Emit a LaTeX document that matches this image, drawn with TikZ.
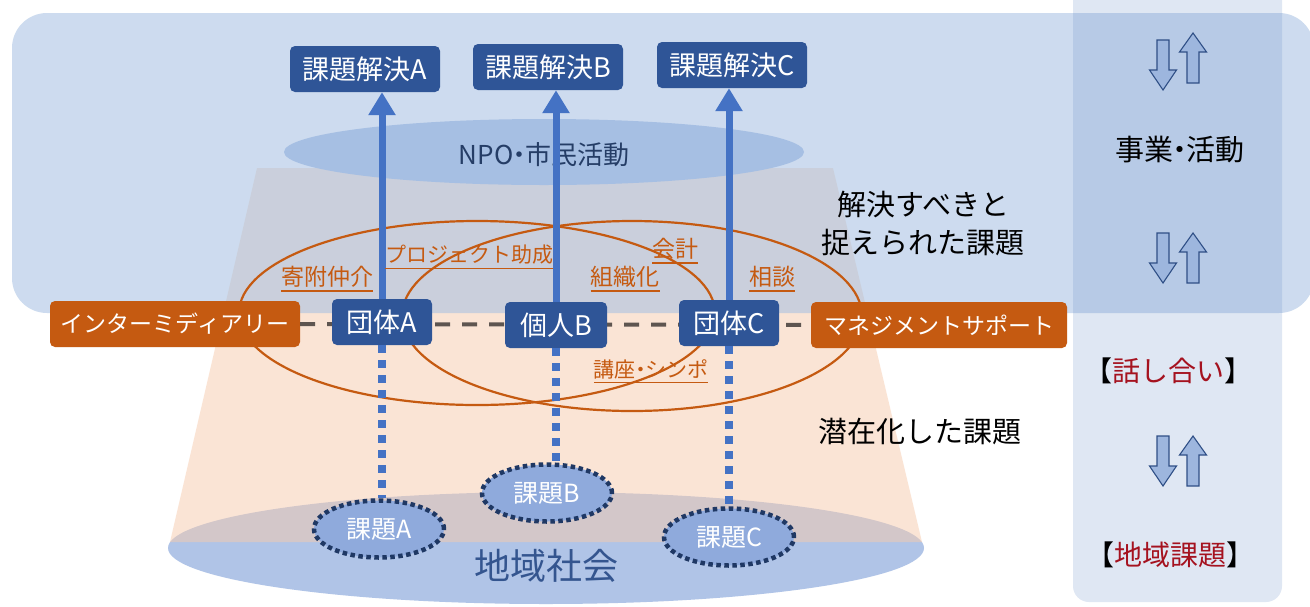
\documentclass[tikz,border=0pt]{standalone}
\usepackage{fontspec}
\setmainfont{Noto Sans CJK JP}
\usetikzlibrary{arrows.meta,shapes.geometric}
\pgfdeclarelayer{front}
\pgfsetlayers{main,front}
\definecolor{topbox}{HTML}{A4BFE2}
\definecolor{peach}{HTML}{F7CBAD}
\definecolor{basebl}{HTML}{B0C4E7}
\definecolor{npobl}{HTML}{A6BFE3}
\definecolor{colbl}{HTML}{5F87C3}
\definecolor{darkbl}{HTML}{2F5597}
\definecolor{arrbl}{HTML}{4472C4}
\definecolor{orng}{HTML}{C55A11}
\definecolor{navy}{HTML}{1F3864}
\definecolor{issuefill}{HTML}{8FAADC}
\definecolor{dashgray}{HTML}{5E5550}
\definecolor{redtxt}{HTML}{A5121F}
\definecolor{pairfill}{HTML}{9DB6DE}
\definecolor{pairline}{HTML}{2F4F86}
\definecolor{npotxt}{HTML}{253D66}
\definecolor{chiikitxt}{HTML}{34558F}
\newcommand\fsz[1]{\fontsize{#1}{#1}\selectfont}
\newcommand\ulx[1]{\setbox0\hbox{#1}\rlap{\smash{\rule[-6pt]{\wd0}{1.4pt}}}\box0}
\newcommand\ndot{\makebox[0.45em]{・}}
\tikzset{
  bluebox/.style={rectangle, rounded corners=5pt, fill=darkbl, text=white,
    minimum height=46pt, inner sep=0pt, font=\fsz{27}},
  orbox/.style={rectangle, rounded corners=5pt, fill=orng, text=white,
    minimum height=46pt, inner sep=0pt, font=\fsz{23}},
  issue/.style={ellipse, draw=navy, line width=4.5pt, dash pattern=on 4.5pt off 3.5pt,
    fill=issuefill, text=white, minimum width=130pt, minimum height=57pt,
    inner sep=0pt, font=\fsz{25}},
  lbl/.style={text=orng, inner sep=0pt, font=\fsz{23}},
  lblk/.style={text=orng, inner sep=0pt, font=\fsz{21}},
  bigtxt/.style={text=black, inner sep=0pt, font=\fsz{29}},
  uparrow/.style={draw=arrbl, line width=7pt, -{Triangle[width=26pt,length=23pt]}},
  dotline/.style={draw=arrbl, line width=8pt, dash pattern=on 8pt off 7pt},
  ring/.style={draw=orng, line width=2.2pt},
  pairarrow/.style={fill=pairfill, draw=pairline, line width=1.1pt, line join=miter},
  pics/darr/.style={code={
    \draw[pairarrow] (-6,-25) -- (6,-25) -- (6,5) -- (13.5,5) -- (0,25)
      -- (-13.5,5) -- (-6,5) -- cycle;}},
  pics/uarr/.style={code={
    \draw[pairarrow] (-6,25) -- (6,25) -- (6,-6) -- (13.5,-6) -- (0,-25)
      -- (-13.5,-6) -- (-6,-6) -- cycle;}},
}
\begin{document}
\begin{tikzpicture}[x=1pt,y=-1pt]
\useasboundingbox (0,0) rectangle (1310,606);
\fill[white] (0,0) rectangle (1310,606);
% base ellipse (regional society)
\fill[basebl] (546,548) ellipse [x radius=378, y radius=56];
% cone
\fill[peach, opacity=0.5] (257,168) -- (833,168) -- (922,542) -- (170,542) -- cycle;
% top band
\fill[topbox, opacity=0.55, rounded corners=35pt] (12,13) rectangle (1314,313);
% NPO ellipse
\fill[npobl] (544,152) ellipse [x radius=260, y radius=33];
% right column
\fill[colbl, opacity=0.2, rounded corners=16pt] (1073,-30) rectangle (1282,602);
% orange rings
\draw[ring] (477,313) ellipse [x radius=238, y radius=92];
\draw[ring] (632,316) ellipse [x radius=230, y radius=95];

% texts in background
\node[text=npotxt, font=\fsz{26}, inner sep=0pt] (npo) at (544,155) {NPO\ndot 市民活動};
\node[text=chiikitxt, font=\fsz{36}, inner sep=0pt] (chiiki) at (546,566) {地域社会};

% boxes
\node[bluebox, minimum width=150pt] (kA) at (365,69) {課題解決A};
\node[bluebox, minimum width=150pt] (kB) at (548,67) {課題解決B};
\node[bluebox, minimum width=150pt] (kC) at (732,65) {課題解決C};
\node[orbox, minimum width=250pt] (im) at (175,324) {インターミディアリー};
\node[orbox, minimum width=256pt] (ms) at (939,325) {マネジメントサポート};

% dashed line
\draw[dashgray, line width=4pt, dash pattern=on 15pt off 12pt] (im.east) -- (ms.west);

\node[bluebox, minimum width=100pt] (tA) at (382,322) {団体A};
\node[bluebox, minimum width=102pt] (pB) at (556,325) {個人B};
\node[bluebox, minimum width=100pt] (tC) at (729,323) {団体C};

% arrows up
\draw[uparrow] (tA.north) -- (tA.north |- kA.south);
\draw[uparrow] (pB.north) -- (pB.north |- kB.south);
\draw[uparrow] (tC.north) -- (tC.north |- kC.south);

% issue ellipses (front layer) and dotted links
\begin{pgfonlayer}{front}
\node[issue] (iA) at (379,529) {課題A};
\node[issue] (iB) at (547,493) {課題B};
\node[issue] (iC) at (729,537) {課題C};
\end{pgfonlayer}
\draw[dotline] (tA.south) -- (tA.south |- iA.north);
\draw[dotline] (pB.south) -- (pB.south |- iB.north);
\draw[dotline] (tC.south) -- (tC.south |- iC.north);

% orange labels
\node[lbl] (l1) at (327,277) {\ulx{寄附仲介}};
\node[lblk] (l2) at (469,255) {\ulx{プロジェクト助成}};
\node[lbl] (l3) at (625,277) {\ulx{組織化}};
\node[lbl] (l4) at (675,249) {\ulx{会計}};
\node[lbl] (l5) at (772,277) {\ulx{相談}};
\node[lblk] (l6) at (651,369) {\ulx{講座\ndot シンポ}};

% side texts
\node[bigtxt, align=center, font=\fontsize{29}{38}\selectfont] (solved) at (923,224) {解決すべきと\\捉えられた課題};
\node[bigtxt] (latent) at (920,432) {潜在化した課題};
\node[bigtxt, font=\fsz{29}] (biz) at (1180,150) {事業\ndot 活動};
\node[bigtxt, font=\fsz{28}] (talk) at (1168,371) {【\textcolor{redtxt}{話し合い}】};
\node[bigtxt, font=\fsz{28}] (regi) at (1170,555) {【\textcolor{redtxt}{地域課題}】};

% arrow pairs
\pic at (1163,65) {darr};
\pic at (1193,58) {uarr};
\pic at (1163,258) {darr};
\pic at (1193,258) {uarr};
\pic at (1163,461) {darr};
\pic at (1193,461) {uarr};
\end{tikzpicture}
\end{document}
